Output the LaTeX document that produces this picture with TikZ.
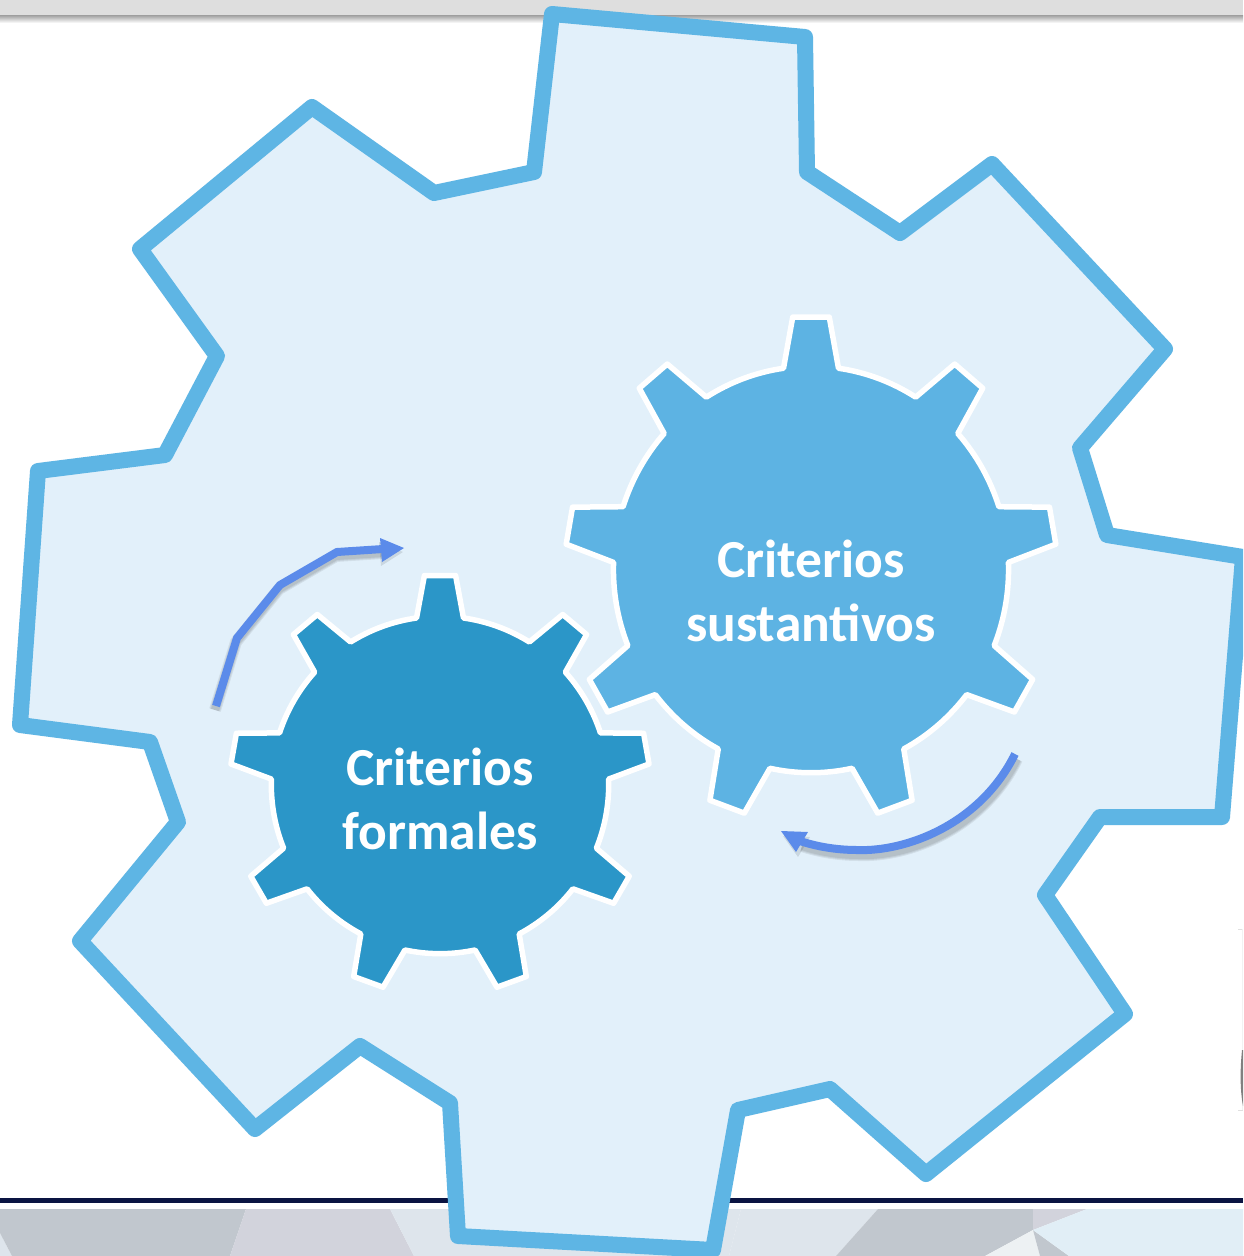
\documentclass[tikz,border=0pt]{standalone}
\usepackage{fontspec}
\setmainfont{Carlito}
\definecolor{outerline}{HTML}{5EB5E4}
\definecolor{outerfill}{HTML}{E2F0FA}
\definecolor{biggear}{HTML}{5DB3E3}
\definecolor{smallgear}{HTML}{2B96C8}
\definecolor{arrowblue}{HTML}{5B8BEA}
\definecolor{bandgray}{HTML}{C1C7CE}
\definecolor{bandmauve}{HTML}{D2D3DC}
\definecolor{bandpale}{HTML}{DEE5EC}
\definecolor{bandice}{HTML}{E1EEF6}
\definecolor{bandwhite}{HTML}{EDF1F3}
\definecolor{navy}{HTML}{0A1442}
\tikzset{
  outergear/.style={draw=outerline,fill=outerfill,line width=16pt,line join=round},
  geartooth/.style={draw=white,line width=5.5pt,line join=round},
  arrowline/.style={draw=arrowblue,line width=8pt},
  arrowhead/.style={fill=arrowblue},
  arrowshade/.style={draw=black,opacity=.07},
  arrowheadshade/.style={fill=black,opacity=.1},
  gearlabel/.style={text=white,font=\fontsize{53.5}{64}\selectfont\bfseries,align=center,inner sep=0pt}
}
\newcommand{\gearshape}[1]{%
  \path[#1] (98:167)
  \foreach \a in {90,50,10,-30,-70,-110,-150,-190,-230} {
    -- ({\a+4.26}:208) -- ({\a-4.26}:208) -- ({\a-8}:167)
    arc[start angle={\a-8},end angle={\a-32},radius=167]
  } -- cycle;}
\begin{document}
\begin{tikzpicture}[x=1pt,y=-1pt]
\useasboundingbox (0,0) rectangle (1243,1256);
\clip (0,0) rectangle (1243,1256);
% top band
\fill[white] (0,0) rectangle (1243,1256);
\fill[black!13] (0,0) rectangle (1243,15);
\shade[top color=black!38,bottom color=white] (0,15) rectangle (1243,23);
% bottom band
\fill[navy] (0,1198) rectangle (1243,1203);
\fill[bandpale] (0,1233) -- (12,1256) -- (0,1256) -- cycle;
\fill[bandgray] (0,1209) -- (246,1209) -- (230,1256) -- (12,1256) -- (0,1233) -- cycle;
\fill[bandmauve] (246,1209) -- (390,1209) -- (414,1256) -- (230,1256) -- cycle;
\fill[bandpale] (390,1209) -- (741,1209) -- (729,1256) -- (414,1256) -- cycle;
\fill[bandpale] (741,1209) -- (878,1209) -- (836,1256) -- (729,1256) -- cycle;
\fill[bandgray] (878,1209) -- (1033,1209) -- (1033,1230) -- (985,1256) -- (836,1256) -- cycle;
\fill[bandmauve] (1033,1209) -- (1087,1209) -- (1033,1230) -- cycle;
\fill[bandwhite] (1033,1230) -- (1040,1256) -- (985,1256) -- cycle;
\fill[bandgray] (1033,1230) -- (1069,1256) -- (1040,1256) -- cycle;
\fill[bandice] (1087,1209) -- (1243,1209) -- (1243,1256) -- (1069,1256) -- (1033,1230) -- cycle;
% right edge sliver
\draw[black!12,line width=1pt] (1238,929) -- (1243,929) (1238,1110) -- (1243,1110);
\draw[black!5,line width=1pt] (1242,929) -- (1242,1110);
\fill[black!50] (1242,1050) .. controls (1240,1070) and (1240,1090) .. (1243,1106) -- (1243,1050) -- cycle;
% outer gear
\path[outergear] (552,14) -- (805,37) -- (807,172) -- (900,233) -- (992,164) -- (1165,349)
  -- (1080,448) -- (1107,535) -- (1243,557) -- (1222,817) -- (1100,817) -- (1045,895)
  -- (1125,1014) -- (926,1174) -- (830,1089) -- (738,1110) -- (713,1250) -- (458,1236)
  -- (450,1103) -- (360,1046) -- (255,1129) -- (80,941) -- (178,822) -- (150,742)
  -- (20,725) -- (38,471) -- (165,455) -- (217,356) -- (140,249) -- (312,107)
  -- (434,193) -- (534,172) -- cycle;
% inner gears
\begin{scope}[shift={(811,569.5)},x=1.183pt,y=1.217pt]
  \gearshape{geartooth,fill=biggear}
\end{scope}
\begin{scope}[shift={(440,785)},x=1.01pt,y=1.01pt]
  \gearshape{geartooth,fill=smallgear}
\end{scope}
\node[gearlabel] (sustantivos) at (811,591) {Criterios\\sustantivos};
\node[gearlabel] (formales) at (440,799) {Criterios\\formales};
% arrows
\coordinate (upstart) at (216,706);
\coordinate (upa) at (237,638);
\coordinate (upb) at (280,585);
\coordinate (upc) at (337,552);
\coordinate (upend) at (383,549);
\coordinate (uptip) at (404,548);
\coordinate (upbasea) at (380,538);
\coordinate (upbaseb) at (382,562);
\coordinate (downstart) at (1015,754);
\coordinate (downc) at (980,825);
\coordinate (downd) at (905,852);
\coordinate (downmid) at (857,850);
\coordinate (downe) at (835,850);
\coordinate (downf) at (815,846);
\coordinate (downend) at (800,841);
\coordinate (downtip) at (781,831);
\coordinate (downbasea) at (808,832);
\coordinate (downbaseb) at (796,852);
\begin{scope}[transform canvas={shift={(-1,4)}}]
  \foreach \w in {8,10,12} {
    \path[arrowshade,line width=\w pt] (upstart) -- (upa) -- (upb) -- (upc) -- (upend);
  }
  \path[arrowheadshade] (uptip) -- (upbasea) -- (upbaseb) -- cycle;
\end{scope}
\begin{scope}[transform canvas={shift={(2,5)}}]
  \foreach \w in {8,10,12} {
    \path[arrowshade,line width=\w pt] (downstart) .. controls (downc) and (downd) .. (downmid)
      .. controls (downe) and (downf) .. (downend);
  }
  \path[arrowheadshade] (downtip) -- (downbasea) -- (downbaseb) -- cycle;
\end{scope}
\path[arrowline] (upstart) -- (upa) -- (upb) -- (upc) -- (upend);
\path[arrowhead] (uptip) -- (upbasea) -- (upbaseb) -- cycle;
\path[arrowline] (downstart) .. controls (downc) and (downd) .. (downmid)
  .. controls (downe) and (downf) .. (downend);
\path[arrowhead] (downtip) -- (downbasea) -- (downbaseb) -- cycle;
\end{tikzpicture}
\end{document}
